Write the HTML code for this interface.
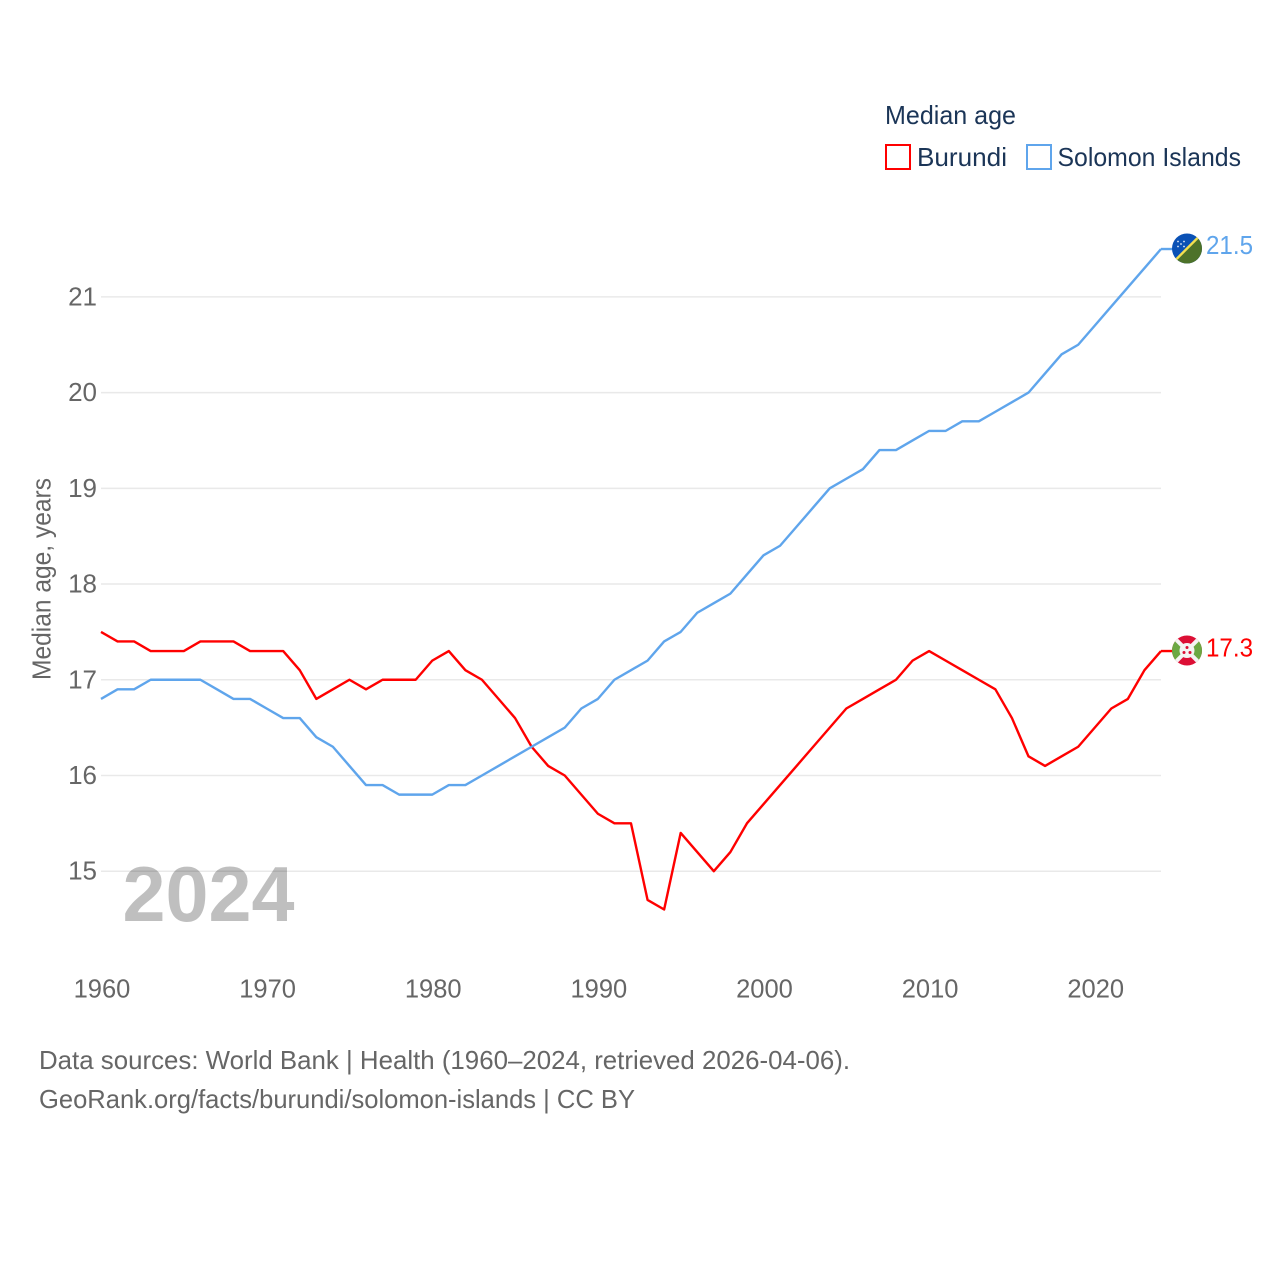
<!DOCTYPE html>
<html lang="en">
<head>
<meta charset="utf-8">
<title>Median age: Burundi and Solomon Islands</title>
<style>
  html, body { margin: 0; padding: 0; background: #fff; }
  svg { display: block; font-family: "Liberation Sans", sans-serif; }
</style>
</head>
<body>
<svg id="chart" xmlns="http://www.w3.org/2000/svg" width="1280" height="1280" viewBox="0 0 1280 1280">
  <rect x="0" y="0" width="1280" height="1280" fill="#ffffff"/>
  <g id="grid"></g>
  <g id="y-ticks"></g>
  <g id="x-ticks"></g>
  <text transform="translate(50.5 680) rotate(-90)" font-size="25.5" fill="#666666" textLength="202" lengthAdjust="spacingAndGlyphs">Median age, years</text>
  <text x="122.5" y="921" font-size="78" font-weight="700" fill="#000000" fill-opacity="0.25" textLength="172" lengthAdjust="spacingAndGlyphs">2024</text>
  <g id="series"></g>

  <g>
    <text x="885" y="124" font-size="26" fill="#1b3557" textLength="131" lengthAdjust="spacingAndGlyphs">Median age</text>
    <rect x="886" y="145" width="24" height="24" fill="#ffffff" stroke="#ff0000" stroke-width="2"/>
    <text x="917" y="166" font-size="26" fill="#1b3557" textLength="90" lengthAdjust="spacingAndGlyphs">Burundi</text>
    <rect x="1027" y="145" width="24" height="24" fill="#ffffff" stroke="#5fa5ec" stroke-width="2"/>
    <text x="1057.5" y="166" font-size="26" fill="#1b3557" textLength="183.5" lengthAdjust="spacingAndGlyphs">Solomon Islands</text>
  </g>

  <defs>
    <clipPath id="flag-clip-sb"><circle cx="0" cy="0" r="15"/></clipPath>
    <clipPath id="flag-clip-bi"><circle cx="0" cy="0" r="15"/></clipPath>
  </defs>

  <g id="flag-sb">
    <g clip-path="url(#flag-clip-sb)">
      <rect x="-16" y="-16" width="32" height="32" fill="#0a51b5"/>
      <polygon points="16,-16 16,16 -16,16" fill="#4d7229"/>
      <line x1="-16" y1="16" x2="16" y2="-16" stroke="#f3e050" stroke-width="2.4"/>
      <g fill="#dfe9f7">
        <circle cx="-9" cy="-7" r="0.9"/>
        <circle cx="-3" cy="-7" r="0.9"/>
        <circle cx="-6" cy="-4.5" r="0.9"/>
        <circle cx="-9" cy="-2" r="0.9"/>
        <circle cx="-3" cy="-2" r="0.9"/>
      </g>
    </g>
  </g>

  <g id="flag-bi">
    <g clip-path="url(#flag-clip-bi)">
      <rect x="-16" y="-16" width="32" height="32" fill="#dc0f35"/>
      <polygon points="-16,-16 0,0 -16,16" fill="#6ba843"/>
      <polygon points="16,-16 0,0 16,16" fill="#6ba843"/>
      <line x1="-16" y1="-16" x2="16" y2="16" stroke="#f4f4f4" stroke-width="4"/>
      <line x1="-16" y1="16" x2="16" y2="-16" stroke="#f4f4f4" stroke-width="4"/>
      <circle cx="0" cy="0" r="7.5" fill="#f4f4f4"/>
      <g fill="#dc0f35">
        <circle cx="0" cy="-3" r="1.5"/>
        <circle cx="-3" cy="2" r="1.5"/>
        <circle cx="3" cy="2" r="1.5"/>
      </g>
    </g>
  </g>

  <text id="end-label-sb" x="1206" font-size="26" fill="#5fa5ec" textLength="47" lengthAdjust="spacingAndGlyphs"></text>
  <text id="end-label-bi" x="1206" font-size="26" fill="#ff0000" textLength="47" lengthAdjust="spacingAndGlyphs"></text>

  <g>
    <text x="39" y="1069" font-size="26" fill="#666666" textLength="811" lengthAdjust="spacingAndGlyphs">Data sources: World Bank | Health (1960–2024, retrieved 2026-04-06).</text>
    <text x="39" y="1108" font-size="26" fill="#666666" textLength="596" lengthAdjust="spacingAndGlyphs">GeoRank.org/facts/burundi/solomon-islands | CC BY</text>
  </g>
</svg>

<script>
const startYear = 1960;
const yTicks = [15, 16, 17, 18, 19, 20, 21];
const xTicks = [1960, 1970, 1980, 1990, 2000, 2010, 2020];
const burundi = [
  17.5, 17.4, 17.4, 17.3, 17.3, 17.3, 17.4, 17.4, 17.4, 17.3,
  17.3, 17.3, 17.1, 16.8, 16.9, 17.0, 16.9, 17.0, 17.0, 17.0,
  17.2, 17.3, 17.1, 17.0, 16.8, 16.6, 16.3, 16.1, 16.0, 15.8,
  15.6, 15.5, 15.5, 14.7, 14.6, 15.4, 15.2, 15.0, 15.2, 15.5,
  15.7, 15.9, 16.1, 16.3, 16.5, 16.7, 16.8, 16.9, 17.0, 17.2,
  17.3, 17.2, 17.1, 17.0, 16.9, 16.6, 16.2, 16.1, 16.2, 16.3,
  16.5, 16.7, 16.8, 17.1, 17.3
];
const solomonIslands = [
  16.8, 16.9, 16.9, 17.0, 17.0, 17.0, 17.0, 16.9, 16.8, 16.8,
  16.7, 16.6, 16.6, 16.4, 16.3, 16.1, 15.9, 15.9, 15.8, 15.8,
  15.8, 15.9, 15.9, 16.0, 16.1, 16.2, 16.3, 16.4, 16.5, 16.7,
  16.8, 17.0, 17.1, 17.2, 17.4, 17.5, 17.7, 17.8, 17.9, 18.1,
  18.3, 18.4, 18.6, 18.8, 19.0, 19.1, 19.2, 19.4, 19.4, 19.5,
  19.6, 19.6, 19.7, 19.7, 19.8, 19.9, 20.0, 20.2, 20.4, 20.5,
  20.7, 20.9, 21.1, 21.3, 21.5
];

const SVG_NS = 'http://www.w3.org/2000/svg';
function xScale(year) { return 101 + (year - 1960) * (1060 / 64); }
function yScale(value) { return 871.2 - (value - 15) * 95.72; }

const gridGroup = document.getElementById('grid');
const yTickGroup = document.getElementById('y-ticks');
const xTickGroup = document.getElementById('x-ticks');
const seriesGroup = document.getElementById('series');

yTicks.forEach(function (tick) {
  const line = document.createElementNS(SVG_NS, 'line');
  
  
  line.setAttribute('x1', 101);
  line.setAttribute('x2', 1161);
  line.setAttribute('y1', yScale(tick));
  line.setAttribute('y2', yScale(tick));
  line.setAttribute('stroke', '#e9e9e9');
  line.setAttribute('stroke-width', '1.5');
  gridGroup.appendChild(line);

  const label = document.createElementNS(SVG_NS, 'text');
  
  
  label.setAttribute('x', 97);
  label.setAttribute('y', yScale(tick) + 8.5);
  label.setAttribute('text-anchor', 'end');
  label.setAttribute('font-size', '26');
  label.setAttribute('fill', '#666666');
  label.textContent = String(tick);
  yTickGroup.appendChild(label);
});

xTicks.forEach(function (tick) {
  const label = document.createElementNS(SVG_NS, 'text');
  
  
  label.setAttribute('x', xScale(tick) + 1);
  label.setAttribute('y', 997.5);
  label.setAttribute('text-anchor', 'middle');
  label.setAttribute('font-size', '25.5');
  label.setAttribute('fill', '#666666');
  label.textContent = String(tick);
  xTickGroup.appendChild(label);
});

function pathFor(values) {
  return values.map(function (value, i) {
    return (i === 0 ? 'M' : 'L') + xScale(startYear + i).toFixed(2) + ' ' + yScale(value).toFixed(2);
  }).join(' ');
}

function endOf(values) {
  const last = values[values.length - 1];
  return { x: xScale(startYear + values.length - 1), y: yScale(last), value: last };
}

const burundiLine = document.createElementNS(SVG_NS, 'path');


burundiLine.setAttribute('d', pathFor(burundi));
burundiLine.setAttribute('fill', 'none');
burundiLine.setAttribute('stroke', '#ff0000');
burundiLine.setAttribute('stroke-width', '2.4');
burundiLine.setAttribute('stroke-linejoin', 'round');
seriesGroup.appendChild(burundiLine);

const solomonLine = document.createElementNS(SVG_NS, 'path');


solomonLine.setAttribute('d', pathFor(solomonIslands));
solomonLine.setAttribute('fill', 'none');
solomonLine.setAttribute('stroke', '#5fa5ec');
solomonLine.setAttribute('stroke-width', '2.4');
solomonLine.setAttribute('stroke-linejoin', 'round');
seriesGroup.appendChild(solomonLine);

const burundiEnd = endOf(burundi);
const burundiConnector = document.createElementNS(SVG_NS, 'line');


burundiConnector.setAttribute('x1', burundiEnd.x);
burundiConnector.setAttribute('x2', burundiEnd.x + 12);
burundiConnector.setAttribute('y1', burundiEnd.y);
burundiConnector.setAttribute('y2', burundiEnd.y);
burundiConnector.setAttribute('stroke', '#ff0000');
burundiConnector.setAttribute('stroke-width', '2.4');
seriesGroup.appendChild(burundiConnector);

const solomonEnd = endOf(solomonIslands);
const solomonConnector = document.createElementNS(SVG_NS, 'line');


solomonConnector.setAttribute('x1', solomonEnd.x);
solomonConnector.setAttribute('x2', solomonEnd.x + 12);
solomonConnector.setAttribute('y1', solomonEnd.y);
solomonConnector.setAttribute('y2', solomonEnd.y);
solomonConnector.setAttribute('stroke', '#5fa5ec');
solomonConnector.setAttribute('stroke-width', '2.4');
seriesGroup.appendChild(solomonConnector);

document.getElementById('flag-sb').setAttribute('transform', 'translate(' + (solomonEnd.x + 26) + ' ' + (solomonEnd.y - 0.5) + ')');
document.getElementById('flag-bi').setAttribute('transform', 'translate(' + (burundiEnd.x + 26) + ' ' + (burundiEnd.y - 0.5) + ')');

const sbLabel = document.getElementById('end-label-sb');
sbLabel.setAttribute('y', solomonEnd.y + 5);
sbLabel.textContent = solomonEnd.value.toFixed(1);

const biLabel = document.getElementById('end-label-bi');
biLabel.setAttribute('y', burundiEnd.y + 5.5);
biLabel.textContent = burundiEnd.value.toFixed(1);
</script>
</body>
</html>
